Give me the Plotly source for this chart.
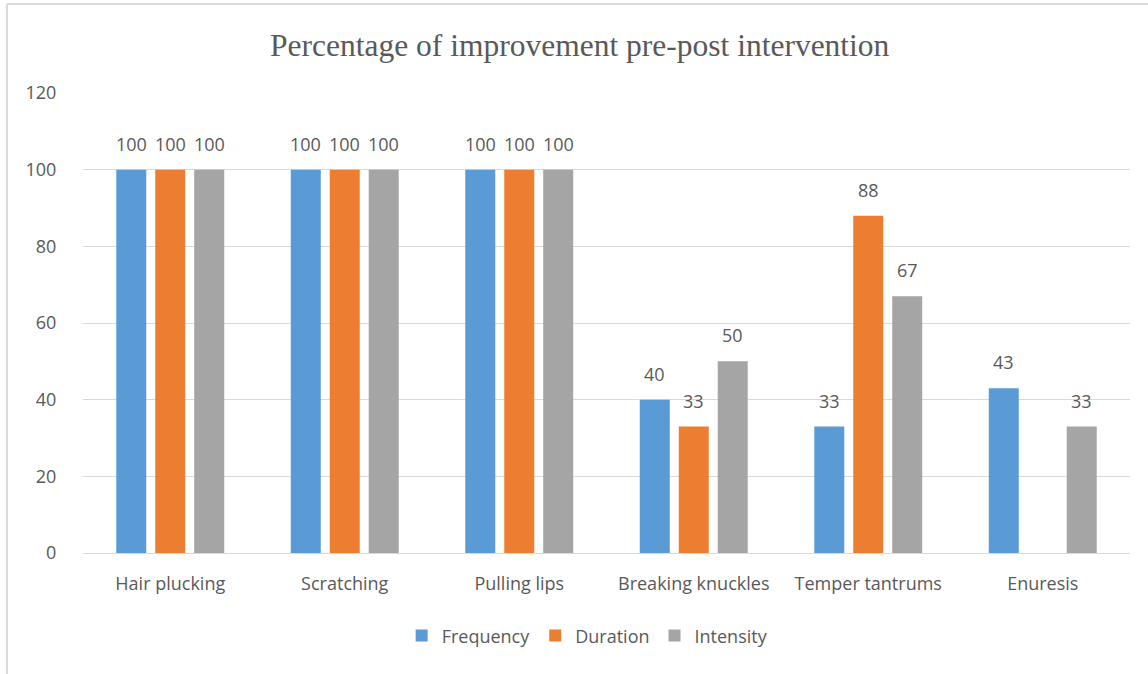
import plotly.graph_objects as go

categories = ["Hair plucking", "Scratching", "Pulling lips", "Breaking knuckles",
              "Temper tantrums", "Enuresis"]
frequency = [100, 100, 100, 40, 33, 43]
duration = [100, 100, 100, 33, 88, None]
intensity = [100, 100, 100, 50, 67, 33]

series = [
    ("Frequency", frequency, "#5B9BD5"),
    ("Duration", duration, "#ED7D31"),
    ("Intensity", intensity, "#A5A5A5"),
]

TEXT = "#595959"
SANS = "Open Sans"
BARGAP = 0.33
GROUPGAP = 0.23

positions = list(range(len(categories)))
slot = (1 - BARGAP) / len(series)

fig = go.Figure()
annotations = []
for k, (name, vals, color) in enumerate(series):
    fig.add_trace(go.Bar(
        name=name,
        x=positions,
        y=vals,
        marker=dict(color=color, line=dict(width=0)),
        hoverinfo="x+y+name",
    ))
    # value labels centred over each bar of this series
    shift = (k - (len(series) - 1) / 2) * slot
    for i, v in zip(positions, vals):
        if v is None:
            continue
        annotations.append(dict(
            x=i + shift, y=v, xref="x", yref="y",
            text=str(v), showarrow=False,
            xanchor="center", yanchor="bottom", yshift=12,
            font=dict(family=SANS, size=18, color=TEXT),
        ))

fig.update_layout(
    width=1148, height=674,
    margin=dict(l=83, r=18, t=93, b=121),
    paper_bgcolor="white",
    plot_bgcolor="white",
    barmode="group",
    bargap=BARGAP,
    bargroupgap=GROUPGAP,
    title=dict(
        text="Percentage of improvement pre-post intervention",
        x=0.505, xanchor="center", y=1 - 45 / 674, yanchor="middle",
        font=dict(family="Liberation Serif", size=31.5, color=TEXT),
    ),
    legend=dict(
        orientation="h", x=0.482, xanchor="center", y=-0.18, yanchor="middle",
        font=dict(family=SANS, size=18, color=TEXT),
        traceorder="normal",
    ),
    annotations=annotations,
    shapes=[
        dict(type="line", xref="paper", yref="paper",
             x0=-76 / 1047, x1=1.2, y0=1 + 89 / 460, y1=1 + 89 / 460,
             line=dict(color="#D9D9D9", width=2)),
        dict(type="line", xref="paper", yref="paper",
             x0=-76 / 1047, x1=-76 / 1047, y0=1 + 89 / 460, y1=-0.5,
             line=dict(color="#D9D9D9", width=2)),
    ],
)

fig.update_yaxes(
    range=[0, 120], dtick=20,
    showgrid=True, gridcolor="#D9D9D9", gridwidth=1,
    zeroline=False, showline=False,
    ticks="outside", ticklen=22, tickcolor="rgba(0,0,0,0)",
    tickfont=dict(family=SANS, size=18, color=TEXT),
)
fig.update_xaxes(
    range=[-0.5, len(categories) - 0.5],
    tickvals=positions, ticktext=categories,
    showgrid=False, zeroline=False,
    showline=True, linecolor="#D9D9D9", linewidth=1,
    ticks="outside", ticklen=14, tickcolor="rgba(0,0,0,0)",
    tickfont=dict(family=SANS, size=18, color=TEXT),
)

fig.write_html("out.html")
